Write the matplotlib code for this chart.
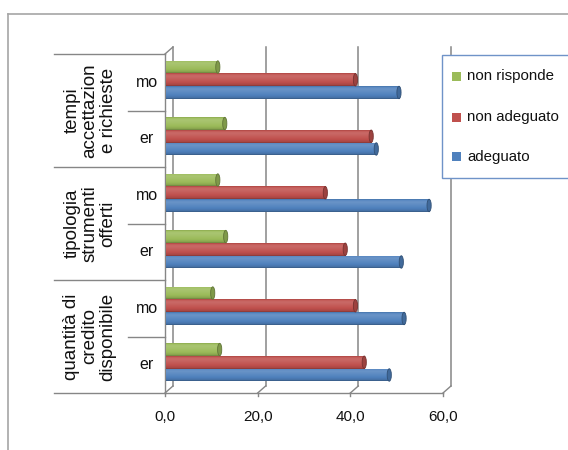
import numpy as np
import matplotlib
matplotlib.use("Agg")
import matplotlib.pyplot as plt
import matplotlib.transforms as mtransforms
from matplotlib.patches import Ellipse, Rectangle
from matplotlib.lines import Line2D

# dati
gruppi = ["quantità di\ncredito\ndisponibile", "tipologia\nstrumenti\nofferti",
          "tempi\naccettazion\ne richieste"]
sottocat = ["er", "mo"]
serie = ["adeguato", "non adeguato", "non risponde"]
colori = ["#4F81BD", "#C0504D", "#9BBB59"]

# valori dal basso verso l'alto: quantità er, quantità mo, tipologia er,
# tipologia mo, tempi er, tempi mo
adeguato = [48.2, 51.4, 50.8, 56.8, 45.4, 50.3]
non_adeguato = [42.8, 40.9, 38.7, 34.4, 44.3, 40.9]
non_risponde = [11.6, 10.1, 12.9, 11.2, 12.7, 11.2]
valori = [adeguato, non_adeguato, non_risponde]

xticks = [0, 20, 40, 60]
xticklabels = ["0,0", "20,0", "40,0", "60,0"]

W, H = 568, 450
font = ["Liberation Sans", "DejaVu Sans"]
grigio = "#868686"
nero = "#111111"


def px(x, y):
    return x / W, 1 - y / H


def shade(c, f):
    c = np.array(matplotlib.colors.to_rgb(c))
    if f >= 1:
        return tuple(c + (1 - c) * (f - 1))
    return tuple(c * f)


fig = plt.figure(figsize=(W / 100, H / 100), dpi=100)
fig.patch.set_facecolor("white")

# bordo del grafico
fig.add_artist(Line2D([px(8, 0)[0], 1], [px(0, 14)[1]] * 2, color="#a6a6a6", lw=1.2))
fig.add_artist(Line2D([px(8, 0)[0]] * 2, [0, px(0, 14)[1]], color="#a6a6a6", lw=1.2))

ax = fig.add_axes([165 / W, 1 - 393 / H, (443 - 165) / W, (393 - 54) / H])
ax.set_xlim(0, 60)
ax.set_ylim(0, 6)
ax.axis("off")

# parete di fondo spostata in profondità
back = ax.transData + mtransforms.ScaledTranslation(0.08, 0.07, fig.dpi_scale_trans)
for x in xticks:
    ax.add_line(Line2D([x, x], [0, 6], transform=back, color=grigio, lw=1.1, clip_on=False))
    ax.add_line(Line2D([x, x + 1.72], [0, 0.124], color=grigio, lw=1.0, clip_on=False))
    ax.add_line(Line2D([x, x], [0, -0.06], color=grigio, lw=1.0, clip_on=False))
ax.add_line(Line2D([0, 0.0], [0, 6], color=grigio, lw=1.0, clip_on=False))
ax.add_line(Line2D([0, 60], [0, 0], color=grigio, lw=1.0, clip_on=False))
ax.add_line(Line2D([0, 1.72], [6, 6.124], color=grigio, lw=1.0, clip_on=False))

# barre cilindriche
h = 0.225
posizioni = np.arange(6) + 0.5 + 0.044
prof = np.linspace(0, 1, 40)
for k, (vals, col) in enumerate(zip(valori, colori)):
    yc = posizioni + (k - 1) * h
    bars = ax.barh(yc, vals, height=h, color=col, left=0.2, zorder=3)
    fattori = np.interp(prof, [0, 0.08, 0.3, 0.6, 0.78, 0.93, 1.0],
                        [0.68, 0.88, 1.0, 1.1, 1.15, 1.06, 0.88])
    grad = np.array([shade(col, f) for f in fattori])[:, None, :]
    for b, v, y in zip(bars, vals, yc):
        im = ax.imshow(grad, extent=[0.2, 0.2 + v, y - h / 2, y + h / 2],
                       origin="lower", aspect="auto", interpolation="bilinear",
                       zorder=4)
        im.set_clip_path(b)
        ax.add_patch(Ellipse((0.2 + v, y), 0.9, h * 0.98, facecolor=shade(col, 0.82),
                             edgecolor=shade(col, 0.62), lw=0.6, zorder=5))

# etichette asse x
for x, t in zip(xticks, xticklabels):
    ax.text(x, -0.071, t, transform=ax.get_xaxis_transform(), ha="center", va="center",
            fontsize=11, family=font, color=nero)

# tabella delle categorie a sinistra
bl = mtransforms.blended_transform_factory(fig.transFigure, ax.transData)
for y in [0, 2, 4, 6]:
    fig.add_artist(Line2D([54 / W, 165 / W], [y, y], transform=bl, color=grigio, lw=1.0))
for y in [1, 3, 5]:
    fig.add_artist(Line2D([128 / W, 165 / W], [y, y], transform=bl, color=grigio, lw=1.0))
for i in range(6):
    fig.text(147 / W, i + 0.5, sottocat[i % 2], transform=bl, ha="center", va="center",
             fontsize=11.5, family=font, color=nero)
for g, nome in enumerate(gruppi):
    fig.text(90 / W, 2 * g + 1, nome, transform=bl, rotation=90, ha="center",
             va="center", multialignment="center", fontsize=13.5, linespacing=1.08,
             family=font, color=nero)

# legenda
x0, y0 = px(442, 178)
x1, y1 = px(580, 55)
fig.add_artist(Rectangle((x0, y0), x1 - x0, y1 - y0, transform=fig.transFigure,
                         facecolor="white", edgecolor="#6f93c8", lw=1.0, zorder=6))
for nome, col, y in zip(["non risponde", "non adeguato", "adeguato"],
                        [colori[2], colori[1], colori[0]], [76, 117, 157]):
    sx, sy = px(452, y + 4.5)
    fig.add_artist(Rectangle((sx, sy), 8.5 / W, 9 / H, transform=fig.transFigure,
                             facecolor=col, edgecolor="none", zorder=7))
    fig.text(*px(467, y), nome, ha="left", va="center", fontsize=10.8,
             family=font, color=nero, zorder=8)

fig.savefig("out.png", dpi=100)
